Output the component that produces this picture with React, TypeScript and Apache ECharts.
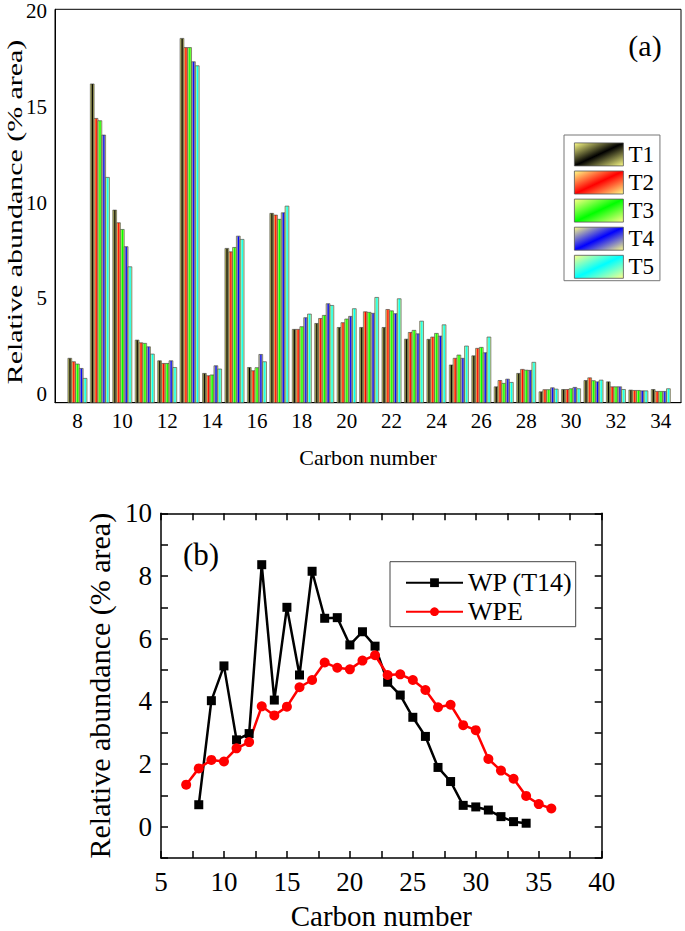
import React, { useEffect, useRef } from "react";
import * as echarts from "echarts";

// ---------- Data: panel (a) ----------
const carbon = [8, 9, 10, 11, 12, 13, 14, 15, 16, 17, 18, 19, 20, 21, 22, 23, 24, 25, 26, 27, 28, 29, 30, 31, 32, 33, 34];
const seriesNames = ["T1", "T2", "T3", "T4", "T5"];
const T1 = [1.87, 16.2, 9.61, 2.82, 1.74, 18.58, 1.08, 7.61, 1.39, 9.44, 3.38, 3.69, 3.48, 3.48, 3.48, 2.87, 2.86, 1.52, 2.0, 0.38, 1.08, 0.12, 0.24, 0.71, 0.64, 0.21, 0.24];
const T2 = [1.69, 14.4, 8.95, 2.68, 1.6, 18.1, 0.96, 7.43, 1.22, 9.35, 3.38, 3.95, 3.73, 4.3, 4.42, 3.22, 2.98, 1.87, 2.39, 0.71, 1.29, 0.23, 0.24, 0.85, 0.38, 0.19, 0.14];
const T3 = [1.57, 14.28, 8.6, 2.65, 1.6, 18.1, 1.0, 7.66, 1.38, 9.13, 3.52, 4.11, 3.92, 4.27, 4.35, 3.33, 3.17, 2.04, 2.44, 0.56, 1.25, 0.23, 0.28, 0.7, 0.38, 0.19, 0.14];
const T4 = [1.34, 13.53, 7.7, 2.47, 1.74, 17.36, 1.48, 8.25, 2.07, 9.47, 3.99, 4.72, 4.06, 4.22, 4.2, 3.15, 3.03, 1.87, 2.16, 0.78, 1.24, 0.33, 0.35, 0.64, 0.38, 0.17, 0.14];
const T5 = [0.82, 11.32, 6.65, 2.09, 1.39, 17.15, 1.31, 8.08, 1.69, 9.82, 4.18, 4.63, 4.46, 5.05, 4.98, 3.81, 3.62, 2.51, 2.98, 0.61, 1.66, 0.26, 0.28, 0.73, 0.24, 0.17, 0.28];
const topXTicks = [8, 10, 12, 14, 16, 18, 20, 22, 24, 26, 28, 30, 32, 34];
const topYTicks = [0, 5, 10, 15, 20];

// ---------- Data: panel (b) ----------
const wpCarbon = [8, 9, 10, 11, 12, 13, 14, 15, 16, 17, 18, 19, 20, 21, 22, 23, 24, 25, 26, 27, 28, 29, 30, 31, 32, 33, 34];
const wp = [0.7, 4.02, 5.13, 2.77, 2.97, 8.36, 4.04, 7.0, 4.84, 8.15, 6.65, 6.67, 5.8, 6.22, 5.76, 4.61, 4.2, 3.49, 2.88, 1.89, 1.44, 0.68, 0.63, 0.53, 0.32, 0.16, 0.11];
const wpeCarbon = [7, 8, 9, 10, 11, 12, 13, 14, 15, 16, 17, 18, 19, 20, 21, 22, 23, 24, 25, 26, 27, 28, 29, 30, 31, 32, 33, 34, 35, 36];
const wpe = [1.34, 1.86, 2.13, 2.08, 2.5, 2.7, 3.84, 3.55, 3.83, 4.45, 4.68, 5.24, 5.07, 5.02, 5.3, 5.47, 4.84, 4.86, 4.68, 4.36, 3.81, 3.89, 3.24, 3.08, 2.16, 1.79, 1.53, 0.98, 0.72, 0.58];

const FONT = '"Liberation Serif", "Times New Roman", serif';
const COLORS = ["#000000", "#ff0000", "#00ff00", "#0000ff", "#00ffff"];
const YELLOW = "#ffff88";
const TOP_Y_MIN = -0.45;
const TOP_Y_MAX = 20.1;
const BAR_FRAC = 0.17;

export default function App() {
  const ref = useRef<HTMLDivElement>(null);

  useEffect(() => {
    if (!ref.current) return;
    const chart = echarts.init(ref.current, null, { renderer: "svg" });
    const allT = [T1, T2, T3, T4, T5];

    const barGradient = (c: string) =>
      new echarts.graphic.LinearGradient(0, 0, 1, 0, [
        { offset: 0, color: YELLOW },
        { offset: 0.55, color: c },
        { offset: 1, color: YELLOW },
      ]);
    const swatchGradient = (c: string) =>
      new echarts.graphic.LinearGradient(0, 0, 1, 1, [
        { offset: 0, color: YELLOW },
        { offset: 0.5, color: c },
        { offset: 1, color: YELLOW },
      ]);

    const barSeries = seriesNames.map((name, k) => ({
      type: "custom",
      name,
      xAxisIndex: 0,
      yAxisIndex: 0,
      itemStyle: { color: barGradient(COLORS[k]), borderColor: "#333" },
      data: carbon.map((c, i) => [c, allT[k][i]]),
      encode: { x: 0, y: 1 },
      renderItem: (params: any, api: any) => {
        const x = api.value(0);
        const v = api.value(1);
        const unit = api.size([1, 0])[0];
        const bw = unit * BAR_FRAC;
        const top = api.coord([x, v]);
        const base = api.coord([x, TOP_Y_MIN]);
        const left = top[0] + (k - 2.5) * bw;
        return {
          type: "rect",
          shape: { x: left, y: top[1], width: bw, height: base[1] - top[1] },
          style: { fill: barGradient(COLORS[k]), stroke: "#3a3a3a", lineWidth: 0.6 },
        };
      },
    }));

    const axisText = { color: "#000", fontFamily: FONT };

    const option: any = {
      animation: false,
      backgroundColor: "#fff",
      textStyle: { fontFamily: FONT },
      grid: [
        { left: 55, right: 4, top: 9.3, bottom: 528.3, show: true, borderColor: "#000", borderWidth: 1 },
        { left: 161, right: 83.3, top: 513.3, bottom: 69.3 },
      ],
      xAxis: [
        {
          type: "value",
          gridIndex: 0,
          min: 7,
          max: 34.9,
          name: "Carbon number",
          nameLocation: "middle",
          nameGap: 44,
          nameTextStyle: { ...axisText, fontSize: 22 },
          axisLine: { show: true, onZero: false, lineStyle: { color: "#000", width: 1 } },
          axisTick: { show: false },
          splitLine: { show: false },
          axisLabel: { ...axisText, fontSize: 21, margin: 8, customValues: topXTicks },
        },
        {
          type: "value",
          gridIndex: 1,
          min: 5,
          max: 40,
          interval: 2.5,
          name: "Carbon number",
          nameLocation: "middle",
          nameGap: 43,
          nameTextStyle: { ...axisText, fontSize: 29 },
          axisLine: { show: true, onZero: false, lineStyle: { color: "#000", width: 1.5 } },
          axisTick: { show: true, inside: true, length: 7, lineStyle: { color: "#000", width: 1.5 } },
          splitLine: { show: false },
          axisLabel: {
            ...axisText,
            fontSize: 27,
            margin: 10,
            formatter: (v: number) => (v % 5 === 0 ? String(v) : ""),
          },
        },
        {
          type: "value",
          gridIndex: 1,
          position: "top",
          min: 5,
          max: 40,
          interval: 2.5,
          axisLine: { show: true, onZero: false, lineStyle: { color: "#000", width: 1.5 } },
          axisTick: { show: true, inside: true, length: 7, lineStyle: { color: "#000", width: 1.5 } },
          splitLine: { show: false },
          axisLabel: { show: false },
        },
      ],
      yAxis: [
        {
          type: "value",
          gridIndex: 0,
          min: TOP_Y_MIN,
          max: TOP_Y_MAX,
          axisLine: { show: true, onZero: false, lineStyle: { color: "#000", width: 1 } },
          axisTick: { show: false },
          splitLine: { show: false },
          axisLabel: { ...axisText, fontSize: 21, margin: 8, customValues: topYTicks },
        },
        {
          type: "value",
          gridIndex: 1,
          min: -1,
          max: 10,
          interval: 1,
          name: "Relative abundance (% area)",
          nameLocation: "middle",
          nameGap: 43,
          nameTextStyle: { ...axisText, fontSize: 30 },
          axisLine: { show: true, onZero: false, lineStyle: { color: "#000", width: 1.5 } },
          axisTick: { show: true, inside: true, length: 7, lineStyle: { color: "#000", width: 1.5 } },
          splitLine: { show: false },
          axisLabel: {
            ...axisText,
            fontSize: 27,
            margin: 9,
            formatter: (v: number) => (v >= 0 && v % 2 === 0 ? String(v) : ""),
          },
        },
        {
          type: "value",
          gridIndex: 1,
          position: "right",
          min: -1,
          max: 10,
          interval: 1,
          axisLine: { show: true, onZero: false, lineStyle: { color: "#000", width: 1.5 } },
          axisTick: { show: true, inside: true, length: 7, lineStyle: { color: "#000", width: 1.5 } },
          splitLine: { show: false },
          axisLabel: { show: false },
        },
      ],
      legend: [
        {
          orient: "vertical",
          left: 564,
          top: 135,
          icon: "rect",
          itemWidth: 49,
          itemHeight: 23,
          itemGap: 4.3,
          padding: [7.5, 6, 2, 10],
          borderColor: "#777",
          borderWidth: 1,
          textStyle: { ...axisText, fontSize: 23 },
          data: seriesNames.map((n, k) => ({
            name: n,
            itemStyle: { color: swatchGradient(COLORS[k]), borderColor: "#555", borderWidth: 0.8 },
          })),
        },
        {
          orient: "vertical",
          left: 390,
          top: 561.7,
          itemWidth: 57,
          itemHeight: 11,
          itemGap: 3,
          padding: [8, 3, 2, 15],
          borderColor: "#444",
          borderWidth: 1,
          textStyle: { ...axisText, fontSize: 26 },
          data: ["WP (T14)", "WPE"],
        },
      ],
      graphic: [
        {
          type: "text",
          x: 15,
          y: 212,
          rotation: Math.PI / 2,
          scaleX: 1.36,
          style: {
            text: "Relative abundance (% area)",
            font: '22px "Liberation Serif", "Times New Roman", serif',
            fill: "#000",
            align: "center",
            verticalAlign: "middle",
          },
        },
        {
          type: "text",
          x: 645,
          y: 45,
          style: { text: "(a)", font: '30px "Liberation Serif", serif', fill: "#000", align: "center", verticalAlign: "middle" },
        },
        {
          type: "text",
          x: 201,
          y: 554,
          style: { text: "(b)", font: '31px "Liberation Serif", serif', fill: "#000", align: "center", verticalAlign: "middle" },
        },
      ],
      series: [
        ...barSeries,
        {
          type: "line",
          name: "WP (T14)",
          xAxisIndex: 1,
          yAxisIndex: 1,
          data: wpCarbon.map((c, i) => [c, wp[i]]),
          symbol: "rect",
          symbolSize: 9,
          itemStyle: { color: "#000" },
          lineStyle: { color: "#000", width: 2.5 },
        },
        {
          type: "line",
          name: "WPE",
          xAxisIndex: 1,
          yAxisIndex: 1,
          data: wpeCarbon.map((c, i) => [c, wpe[i]]),
          symbol: "circle",
          symbolSize: 10,
          itemStyle: { color: "#ff0000" },
          lineStyle: { color: "#ff0000", width: 2.5 },
        },
      ],
    };

    chart.setOption(option);
    return () => chart.dispose();
  }, []);

  return (
    <div
      ref={ref}
      style={{ position: "fixed", left: 0, top: 0, width: 685, height: 931, background: "#fff" }}
    />
  );
}
